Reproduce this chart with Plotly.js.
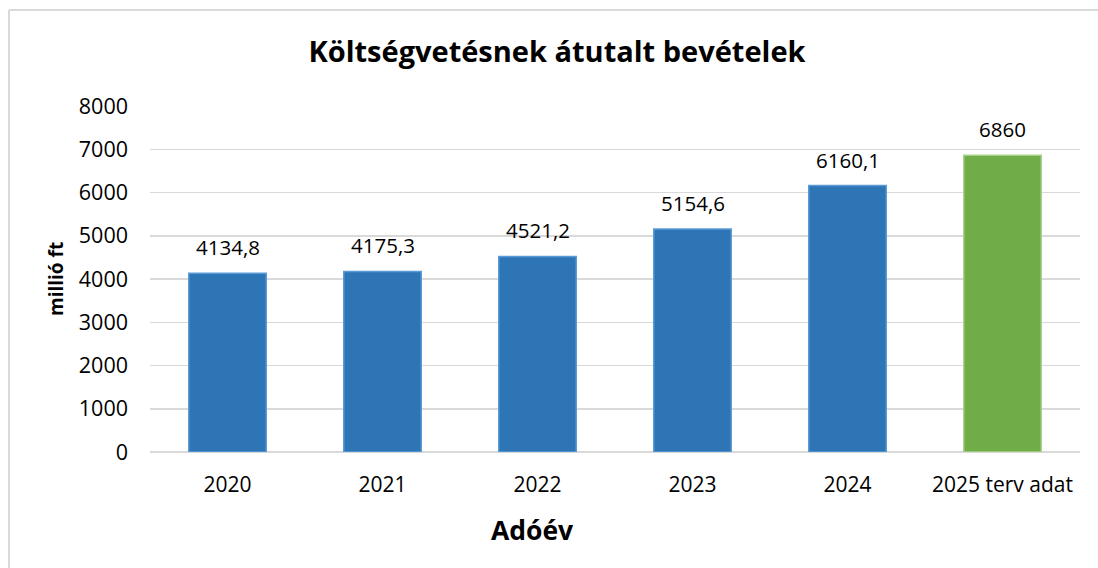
<!DOCTYPE html>
<html>
<head>
<meta charset="utf-8">
<script src="https://cdn.plot.ly/plotly-3.0.1.min.js"></script>
<style>
html,body{margin:0;padding:0;background:#fff;}
#chart{width:1098px;height:568px;}
</style>
</head>
<body>
<div id="chart"></div>
<script>
const categories = ["2020", "2021", "2022", "2023", "2024", "2025 terv adat"];
const values = [4134.8, 4175.3, 4521.2, 5154.6, 6160.1, 6860];
const barColors = ["#2E75B6", "#2E75B6", "#2E75B6", "#2E75B6", "#2E75B6", "#70AD47"];
const borderColors = ["#5B9BD5", "#5B9BD5", "#5B9BD5", "#5B9BD5", "#5B9BD5", "#A9D18E"];
const yTicks = [0, 1000, 2000, 3000, 4000, 5000, 6000, 7000, 8000];

const fontFam = "Open Sans, sans-serif";
const labels = values.map(v => String(v).replace('.', ','));

const trace = {
  type: 'bar',
  x: categories,
  y: values,
  marker: {color: barColors, line: {color: borderColors, width: 1.5}},
  hoverinfo: 'x+y'
};

// category axis: annotations use the serial index of each category
const annotations = categories.map((c, i) => ({
  x: i, y: values[i], xref: 'x', yref: 'y',
  text: labels[i], showarrow: false,
  yanchor: 'middle', yshift: 26,
  font: {family: fontFam, size: 20.5, color: '#000'}
}));
annotations.push({
  xref: 'paper', yref: 'paper', x: (56 - 150) / 930, y: 0.5,
  text: '<b>millió ft</b>', textangle: -90, showarrow: false,
  xanchor: 'center', yanchor: 'middle',
  font: {family: fontFam, size: 19, color: '#000'}
});
annotations.push({
  xref: 'paper', yref: 'paper', x: (532 - 150) / 930, y: (452 - 530) / 346,
  text: '<b>Adóév</b>', showarrow: false,
  xanchor: 'center', yanchor: 'middle',
  font: {family: fontFam, size: 26.5, color: '#000'}
});

const bx = (9 - 150) / 930;
const by = (452 - 10) / 346;

const layout = {
  width: 1098, height: 568,
  margin: {l: 150, r: 18, t: 106, b: 116, pad: 0},
  paper_bgcolor: '#fff', plot_bgcolor: '#fff',
  title: {
    text: '<b>Költségvetésnek átutalt bevételek</b>',
    xref: 'container', yref: 'container',
    x: 557 / 1098, y: 1 - 52 / 568, xanchor: 'center', yanchor: 'middle',
    font: {family: fontFam, size: 29, color: '#000'}
  },
  bargap: 0.5,
  showlegend: false,
  xaxis: {
    type: 'category',
    range: [-0.5, categories.length - 0.5],
    tickfont: {family: fontFam, size: 21, color: '#000'},
    showgrid: false, showline: false, zeroline: false,
    ticks: '', ticklabelstandoff: 18
  },
  yaxis: {
    range: [0, 8000],
    tickvals: yTicks,
    ticktext: yTicks.map(String),
    tickfont: {family: fontFam, size: 21.5, color: '#000'},
    showgrid: true, gridcolor: '#D9D9D9', gridwidth: 1.5,
    zeroline: true, zerolinecolor: '#D9D9D9', zerolinewidth: 1.5,
    showline: false, ticks: '', ticklabelstandoff: 21
  },
  annotations: annotations,
  shapes: [
    {type: 'line', xref: 'paper', yref: 'paper', x0: bx, x1: bx, y0: -0.5, y1: by,
     line: {color: '#D9D9D9', width: 2}},
    {type: 'line', xref: 'paper', yref: 'paper', x0: bx, x1: 1.1, y0: by, y1: by,
     line: {color: '#D9D9D9', width: 2}}
  ]
};

Plotly.newPlot('chart', [trace], layout, {displayModeBar: false, staticPlot: true});
</script>
</body>
</html>
